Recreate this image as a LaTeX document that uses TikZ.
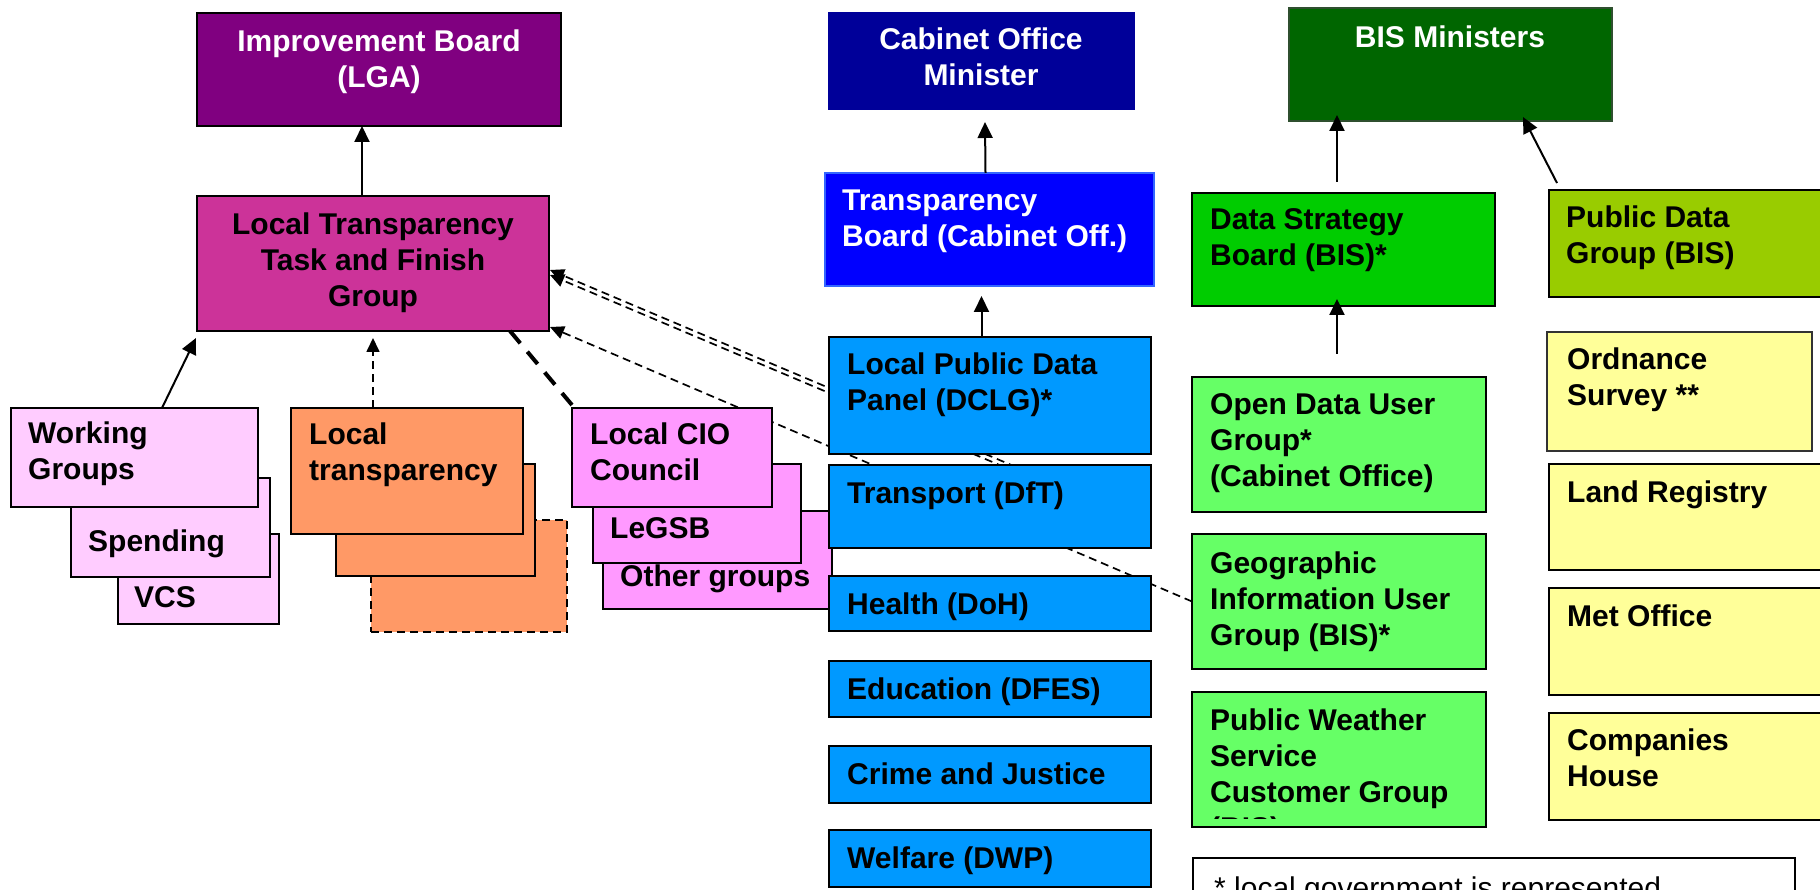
\documentclass[tikz,border=0pt]{standalone}
\usepackage{fontspec}
\setmainfont{Liberation Sans}
\usetikzlibrary{arrows.meta,calc}
\pgfdeclarelayer{bg}
\pgfsetlayers{bg,main}

\definecolor{cIB}{HTML}{800080}
\definecolor{cLT}{HTML}{CC3399}
\definecolor{cWG}{HTML}{FFCCFF}
\definecolor{cOR}{HTML}{FF9966}
\definecolor{cCIO}{HTML}{FF99FF}
\definecolor{cCOM}{HTML}{000099}
\definecolor{cTB}{HTML}{0000FF}
\definecolor{cTBe}{HTML}{3366FF}
\definecolor{cDEP}{HTML}{0099FF}
\definecolor{cBIS}{HTML}{006600}
\definecolor{cBISe}{HTML}{2F4F2F}
\definecolor{cDSB}{HTML}{00CC00}
\definecolor{cUSR}{HTML}{66FF66}
\definecolor{cPDG}{HTML}{99CC00}
\definecolor{cTF}{HTML}{FFFF99}

\begin{document}
\begin{tikzpicture}[x=1pt,y=-1pt,
  box/.style={draw=black,line width=2.2pt,anchor=north west,inner sep=0pt,outer sep=0pt},
  sz/.style 2 args={minimum width=#1pt,minimum height=#2pt},
  txt/.style={anchor=north west,inner sep=0pt,align=left,
    font=\fontsize{30}{36}\selectfont\bfseries},
  ctxt/.style={anchor=north,inner sep=0pt,align=center,
    font=\fontsize{30}{36}\selectfont\bfseries},
  arr/.style={line width=2pt,-{Triangle[length=16pt,width=15pt]}},
  darr/.style={line width=1.7pt,dash pattern=on 8pt off 5pt,
    -{Triangle[length=14pt,width=13pt]}},
  thickdash/.style={line width=4pt,dash pattern=on 16pt off 11pt},
]
\useasboundingbox (0,0) rectangle (1820,890);
\clip (0,0) rectangle (1820,890);

% ---- local government column ----
\node[box,fill=cIB,sz={364}{113}] (ib) at (197,13) {};
\node[ctxt,text=white] (ib-t) at (379,30) {Improvement Board\\(LGA)};

\node[box,fill=cLT,sz={352}{135}] (lttfg) at (197,196) {};
\node[ctxt] (lttfg-t) at (373,213) {Local Transparency\\Task and Finish\\Group};

\node[box,fill=cWG,sz={161}{90}] (vcs) at (118,534) {};
\node[txt] (vcs-t) at (134,586) {VCS};
\node[box,fill=cWG,sz={199}{99}] (spend) at (71,478) {};
\node[txt] (spend-t) at (88,530) {Spending};
\node[box,fill=cWG,sz={247}{99}] (wg) at (11,408) {};
\node[txt] (wg-t) at (28,422) {Working\\Groups};

\node[box,fill=cOR,dash pattern=on 8pt off 5pt,sz={196}{112}] (lt3) at (371,520) {};
\node[box,fill=cOR,sz={199}{112}] (lt2) at (336,464) {};
\node[box,fill=cOR,sz={232}{126}] (lt1) at (291,408) {};
\node[txt] (lt-t) at (309,423) {Local\\transparency};

\node[box,fill=cCIO,sz={229}{98}] (other) at (603,511) {};
\node[txt] (other-t) at (620,565) {Other groups};
\node[box,fill=cCIO,sz={208}{99}] (legsb) at (593,464) {};
\node[txt] (legsb-t) at (610,517) {LeGSB};
\node[box,fill=cCIO,sz={200}{99}] (cio) at (572,408) {};
\node[txt] (cio-t) at (590,423) {Local CIO\\Council};

% ---- Cabinet Office column ----
\node[box,fill=cCOM,draw=cCOM,sz={305}{96}] (com) at (829,13) {};
\node[ctxt,text=white] (com-t) at (981,28) {Cabinet Office\\Minister};

\node[box,fill=cTB,draw=cTBe,sz={329}{113}] (tb) at (825,173) {};
\node[txt,text=white] (tb-t) at (842,190) {Transparency\\Board (Cabinet Off.)};

\node[box,fill=cDEP,sz={322}{117}] (lpdp) at (829,337) {};
\node[txt] (lpdp-t) at (847,353) {Local Public Data\\Panel (DCLG)*};
\node[box,fill=cDEP,sz={322}{83}] (transport) at (829,465) {};
\node[txt] (transport-t) at (847,482) {Transport (DfT)};
\node[box,fill=cDEP,sz={322}{55}] (health) at (829,576) {};
\node[txt] (health-t) at (847,593) {Health (DoH)};
\node[box,fill=cDEP,sz={322}{56}] (edu) at (829,661) {};
\node[txt] (edu-t) at (847,678) {Education (DFES)};
\node[box,fill=cDEP,sz={322}{57}] (crime) at (829,746) {};
\node[txt] (crime-t) at (847,763) {Crime and Justice};
\node[box,fill=cDEP,sz={322}{57}] (welfare) at (829,830) {};
\node[txt] (welfare-t) at (847,847) {Welfare (DWP)};

% ---- BIS column ----
\node[box,fill=cBIS,draw=cBISe,sz={323}{113}] (bis) at (1289,8) {};
\node[ctxt,text=white] (bis-t) at (1450,26) {BIS Ministers};

\node[box,fill=cDSB,sz={303}{113}] (dsb) at (1192,193) {};
\node[txt] (dsb-t) at (1210,208) {Data Strategy\\Board (BIS)*};

\node[box,fill=cUSR,sz={294}{135}] (odug) at (1192,377) {};
\node[txt] (odug-t) at (1210,393) {Open Data User\\Group*\\(Cabinet Office)};
\node[box,fill=cUSR,sz={294}{135}] (giug) at (1192,534) {};
\node[txt] (giug-t) at (1210,552) {Geographic\\Information User\\Group (BIS)*};
\node[box,fill=cUSR,sz={294}{135}] (pwscg) at (1192,692) {};
\begin{scope}
  \clip (1192,692) rectangle (1486,818);
  \node[txt] (pwscg-t) at (1210,709) {Public Weather\\Service\\Customer Group\\(BIS)};
\end{scope}

\node[box,fill=cPDG,sz={290}{107}] (pdg) at (1549,190) {};
\node[txt] (pdg-t) at (1566,206) {Public Data\\Group (BIS)};
\node[box,fill=cTF,draw=black!80,sz={265}{119}] (os) at (1547,332) {};
\node[txt] (os-t) at (1567,348) {Ordnance\\Survey **};
\node[box,fill=cTF,sz={290}{106}] (lr) at (1549,464) {};
\node[txt] (lr-t) at (1567,481) {Land Registry};
\node[box,fill=cTF,sz={290}{107}] (mo) at (1549,588) {};
\node[txt] (mo-t) at (1567,605) {Met Office};
\node[box,fill=cTF,sz={290}{107}] (ch) at (1549,713) {};
\node[txt] (ch-t) at (1567,729) {Companies\\House};

\node[box,fill=white,line width=1.6pt,sz={602}{60}] (note) at (1193,858) {};
\node[txt,font=\fontsize{30}{36}\selectfont] (note-t) at (1214,877) {* local government is represented};

% ---- connectors ----
\draw[arr] ($(lttfg.north)+(-11,0)$) -- ($(ib.south)+(-17,0)$);
\draw[arr] ($(tb.north)+(-4,0)$) -- ($(com.south)+(3.5,13)$);
\draw[arr] ($(lpdp.north)+(-8.5,0)$) -- ($(tb.south)+(-8,10)$);
\draw[arr] ($(dsb.north)+(-6.5,-11)$) -- ($(bis.south)+(-113.5,-6)$);
\draw[arr] ($(pdg.north west)+(8,-7)$) -- ($(bis.south)+(72.5,-4)$);
\draw[arr] ($(odug.north)+(-2,-23)$) -- ($(dsb.south)+(-6.5,-7)$);
\draw[arr] ($(wg.north)+(27.5,0)$) -- ($(lttfg.south west)+(-1,7)$);
\draw[darr] ($(lt1.north)+(-34,0)$) -- ($(lttfg.south)+(0,7)$);
\draw[thickdash] ($(lttfg.south east)+(-39,0)$) -- ($(cio.north west)+(0,-3)$);

% dashed links that run behind the department boxes
\coordinate (b1) at ($(transport.center)+(110,-4)$);
\coordinate (b2) at ($(transport.center)+(110,1)$);
\begin{pgfonlayer}{bg}
  \draw[darr] (giug.west) -- ($(lttfg.south east)+(1,-4)$);
  \draw[darr] (b1) -- ($(lttfg.east)+(1,6.5)$);
  \draw[darr] (b2) -- ($(lttfg.east)+(1,11.5)$);
\end{pgfonlayer}
\end{tikzpicture}
\end{document}
